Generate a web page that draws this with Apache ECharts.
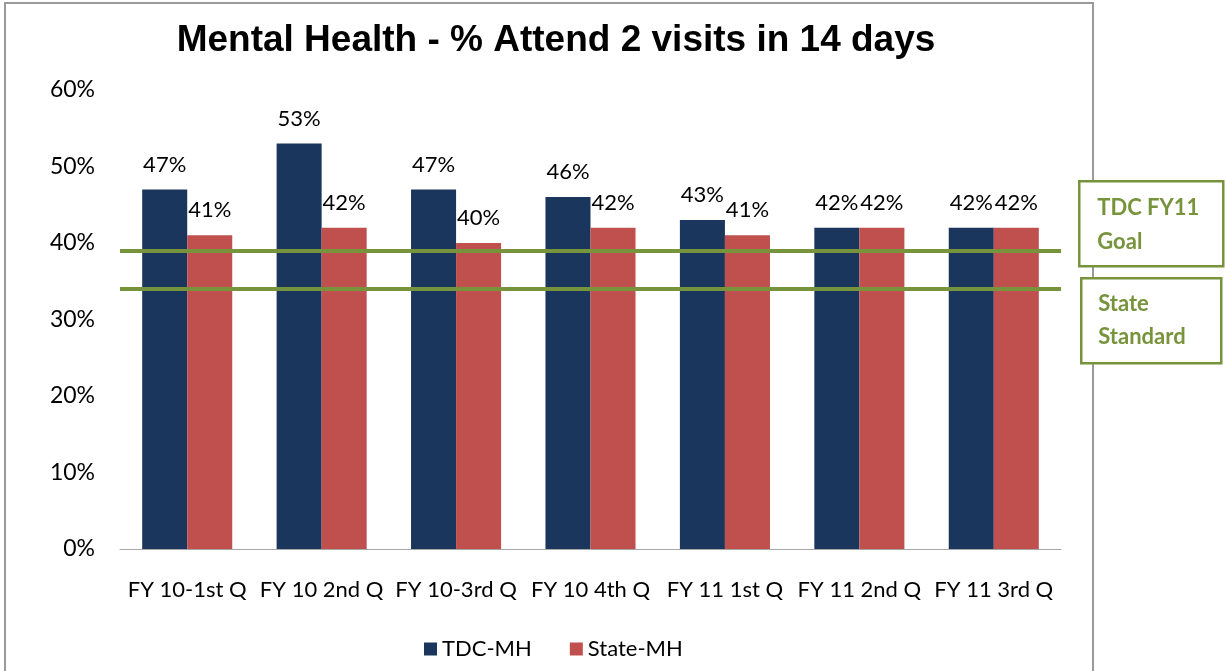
<!DOCTYPE html>
<html>
<head>
    <meta charset="UTF-8">
    <title>Mental Health - % Attend 2 visits in 14 days</title>
    <script src="https://cdn.jsdelivr.net/npm/echarts@6/dist/echarts.min.js"></script>
    <style>
        html, body { margin: 0; padding: 0; background: #fff; }
    </style>
</head>
<body>
    <div id="main" style="width:1225px;height:671px;"></div>
    <script>
        // 数据
        var categories = ['FY 10-1st Q', 'FY 10 2nd Q', 'FY 10-3rd Q', 'FY 10 4th Q', 'FY 11 1st Q', 'FY 11 2nd Q', 'FY 11 3rd Q'];
        var tdcMH = [47, 53, 47, 46, 43, 42, 42];
        var stateMH = [41, 42, 40, 42, 41, 42, 42];
        var goalValue = 39;      // TDC FY11 Goal
        var standardValue = 34;  // State Standard
        var yTicks = [0, 10, 20, 30, 40, 50, 60];

        var font = 'Lato, "Open Sans", sans-serif';
        var green = '#77933C';

        var myChart = echarts.init(document.getElementById('main'));

        var barLabel = {
            show: true,
            position: 'top',
            distance: 14,
            formatter: '{c}%',
            fontFamily: font,
            fontSize: 22,
            color: '#000'
        };

        var option = {
            animation: false,
            title: {
                text: 'Mental Health - % Attend 2 visits in 14 days',
                left: 551,
                textAlign: 'center',
                top: 17,
                textStyle: {
                    fontFamily: 'Arial, "Liberation Sans", sans-serif',
                    fontWeight: 'bold',
                    fontSize: 37,
                    color: '#000'
                }
            },
            graphic: [
                // 外框
                {
                    type: 'rect',
                    shape: { x: 5, y: 3, width: 1088, height: 700 },
                    style: { fill: null, stroke: '#9a9a9a', lineWidth: 2 },
                    z: 0
                },
                {
                    type: 'group',
                    left: 1078,
                    top: 180,
                    z: 10,
                    children: [
                        {
                            type: 'rect',
                            shape: { x: 0, y: 0, width: 144, height: 85 },
                            style: { fill: '#fff', stroke: green, lineWidth: 2.5 }
                        },
                        {
                            type: 'text',
                            left: 18,
                            top: 10,
                            style: {
                                text: 'TDC FY11\nGoal',
                                font: 'bold 22px ' + font,
                                fill: green,
                                lineHeight: 34
                            }
                        }
                    ]
                },
                {
                    type: 'group',
                    left: 1080,
                    top: 277,
                    z: 10,
                    children: [
                        {
                            type: 'rect',
                            shape: { x: 0, y: 0, width: 140, height: 85 },
                            style: { fill: '#fff', stroke: green, lineWidth: 2.5 }
                        },
                        {
                            type: 'text',
                            left: 17,
                            top: 9,
                            style: {
                                text: 'State\nStandard',
                                font: 'bold 22px ' + font,
                                fill: green,
                                lineHeight: 33
                            }
                        }
                    ]
                }
            ],
            legend: {
                data: ['TDC-MH', 'State-MH'],
                bottom: 6,
                left: 419,
                itemWidth: 13,
                itemHeight: 13,
                itemGap: 38,
                icon: 'rect',
                textStyle: { fontFamily: font, fontSize: 22, color: '#000' }
            },
            grid: {
                left: 120,
                right: 164,
                top: 90,
                bottom: 122
            },
            xAxis: {
                type: 'category',
                data: categories,
                axisTick: { show: false },
                axisLine: { lineStyle: { color: '#a6a6a6', width: 1 } },
                axisLabel: {
                    interval: 0,
                    margin: 30,
                    fontFamily: font,
                    fontSize: 22,
                    color: '#000'
                }
            },
            yAxis: {
                type: 'value',
                min: yTicks[0],
                max: yTicks[yTicks.length - 1],
                interval: 10,
                splitLine: { show: false },
                axisLine: { show: false },
                axisTick: { show: false },
                axisLabel: {
                    margin: 25,
                    formatter: '{value}%',
                    fontFamily: font,
                    fontSize: 23,
                    color: '#000'
                }
            },
            series: [
                {
                    name: 'TDC-MH',
                    type: 'bar',
                    data: tdcMH,
                    barGap: '0%',
                    barCategoryGap: '33%',
                    itemStyle: { color: '#1B365D' },
                    label: barLabel,
                    markLine: {
                        silent: true,
                        symbol: 'none',
                        label: { show: false },
                        lineStyle: { color: green, width: 4, type: 'solid' },
                        data: [
                            { yAxis: goalValue },
                            { yAxis: standardValue }
                        ],
                        z: 5
                    }
                },
                {
                    name: 'State-MH',
                    type: 'bar',
                    data: stateMH,
                    itemStyle: { color: '#C0504D' },
                    label: barLabel
                }
            ]
        };

        myChart.setOption(option);
    </script>
</body>
</html>
